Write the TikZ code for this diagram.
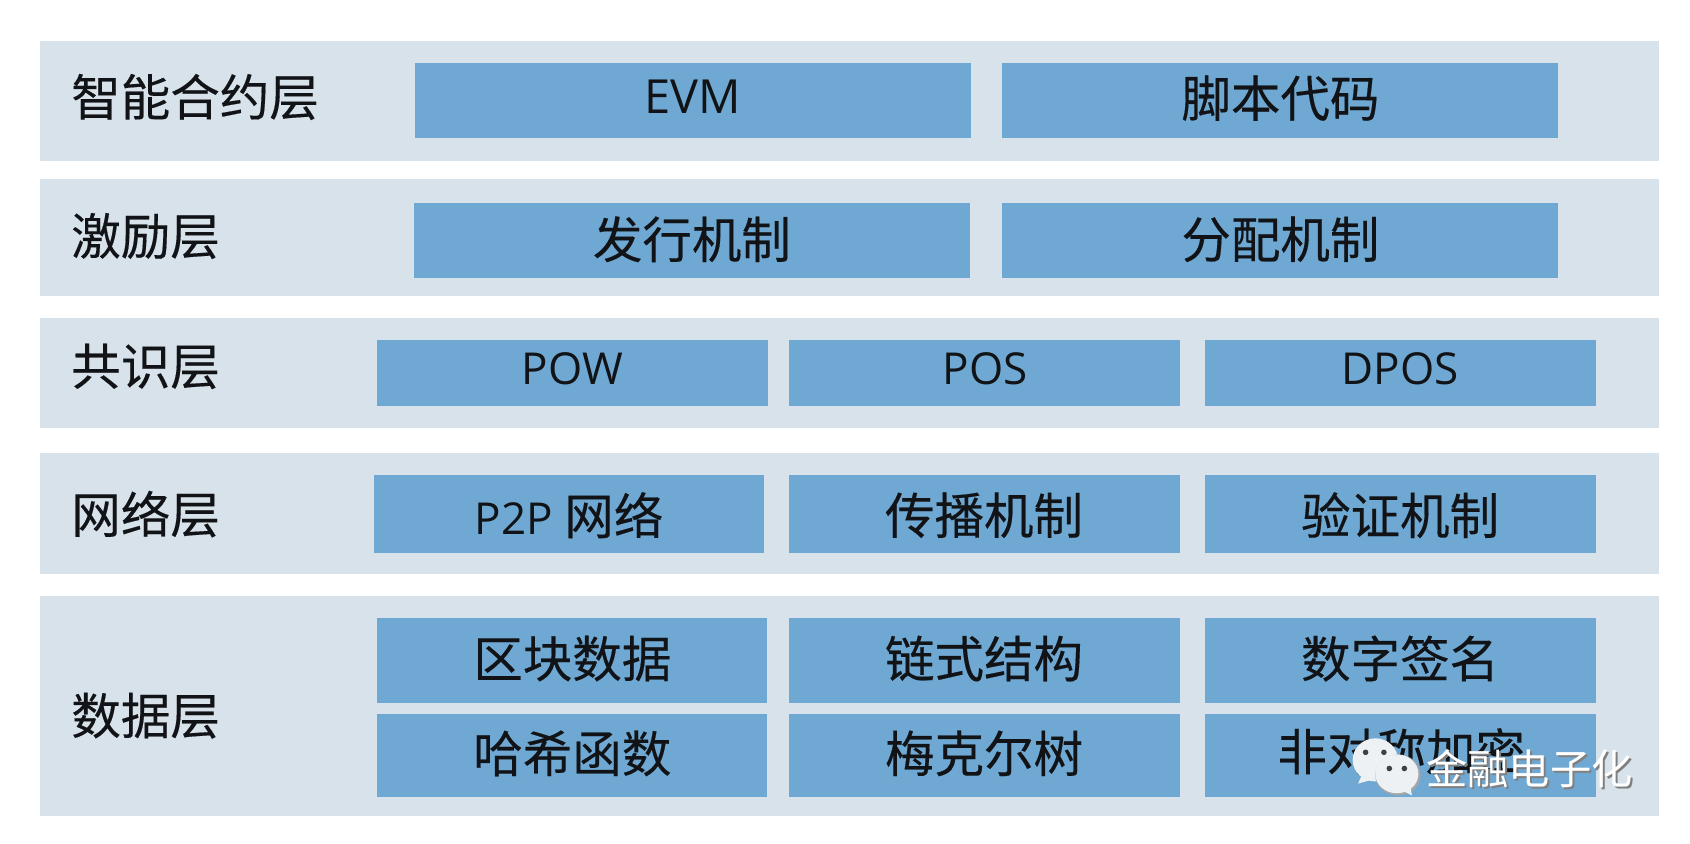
\documentclass[tikz,border=0pt]{standalone}
\usepackage{fontspec}
\setmainfont{Open Sans}
\newfontfamily\cjk[FakeBold=0.3]{Noto Sans CJK SC}
\newfontfamily\cjkw{Noto Sans CJK SC}
\definecolor{bandc}{HTML}{D7E2EB}
\definecolor{boxc}{HTML}{6FA9D3}
\definecolor{inkc}{HTML}{111316}
\definecolor{bubblec}{HTML}{EDF1F4}
\newcommand{\rr}[6]{%
  \pgfmathsetmacro{\rrw}{(#4-#2)*1.0778}%
  \pgfmathsetmacro{\rrh}{(#5-#3)*1.0778}%
  \node[#1,minimum width=\rrw pt,minimum height=\rrh pt] (#6) at ({(#2+#4)/2},{(#3+#5)/2}) {};}
\tikzset{
  x=1.0778pt,y=-1.0778pt,
  band/.style={fill=bandc,draw=none,inner sep=0pt,outer sep=0pt},
  bluebox/.style={fill=boxc,draw=none,inner sep=0pt,outer sep=0pt},
  zh/.style={inkc,font=\cjk\fontsize{49.5}{50}\selectfont,inner sep=0pt},
  lat/.style={inkc,font=\fontsize{44}{44}\selectfont,inner sep=0pt},
  lay/.style={zh,anchor=west},
  wm/.style={font=\cjkw\fontsize{41.3}{42}\selectfont,inner sep=0pt,anchor=west},
}
\begin{document}
\begin{tikzpicture}
\useasboundingbox (0,0) rectangle (1568,783);
\rr{band}{37}{38}{1539}{149}{b1}
\rr{band}{37}{166}{1539}{275}{b2}
\rr{band}{37}{295}{1539}{397}{b3}
\rr{band}{37}{420}{1539}{533}{b4}
\rr{band}{37}{553}{1539}{757}{b5}
\rr{bluebox}{385}{58}{901}{128}{a1}
\rr{bluebox}{929.5}{58}{1445.5}{128}{a2}
\rr{bluebox}{384}{188}{900}{257.5}{c1}
\rr{bluebox}{929.5}{188}{1445.5}{257.5}{c2}
\rr{bluebox}{350}{315}{713}{376.5}{d1}
\rr{bluebox}{732}{315}{1095}{376.5}{d2}
\rr{bluebox}{1118}{315}{1481}{376.5}{d3}
\rr{bluebox}{347}{441}{709}{513}{e1}
\rr{bluebox}{732}{441}{1095}{513}{e2}
\rr{bluebox}{1118}{441}{1481}{513}{e3}
\rr{bluebox}{350}{573}{712}{652}{f1}
\rr{bluebox}{732}{573}{1095}{652}{f2}
\rr{bluebox}{1118}{573}{1481}{652}{f3}
\rr{bluebox}{350}{662}{712}{739}{g1}
\rr{bluebox}{732}{662}{1095}{739}{g2}
\rr{bluebox}{1118}{662}{1481}{739}{g3}
\node[lay] (l1) at (66,90) {智能合约层};
\node[lay] (l2) at (66,219) {激励层};
\node[lay] (l3) at (66,340) {共识层};
\node[lay] (l4) at (66,477) {网络层};
\node[lay] (l5) at (66,664) {数据层};
\node[lat,font=\fontsize{47}{47}\selectfont] (ta1) at (643,90) {EVM};
\node[zh] (ta2) at (1188,91) {脚本代码};
\node[zh] (tc1) at (642,222) {发行机制};
\node[zh] (tc2) at (1188,222) {分配机制};
\node[lat] (td1) at (531,342) {POW};
\node[lat] (td2) at (914,342) {POS};
\node[lat] (td3) at (1299,342) {DPOS};
\node[lat] (te1) at (528,478) {P2P {\cjk\fontsize{49.5}{50}\selectfont 网络}};
\node[zh] (te2) at (913,478) {传播机制};
\node[zh] (te3) at (1299,478) {验证机制};
\node[zh] (tf1) at (531,611) {区块数据};
\node[zh] (tf2) at (913,611) {链式结构};
\node[zh] (tf3) at (1299,611) {数字签名};
\node[zh] (tg1) at (531,699) {哈希函数};
\node[zh] (tg2) at (913,699) {梅克尔树};
\node[zh] (tg3) at (1300,697) {非对称加密};
% watermark
\fill[bubblec] (1276,705) ellipse (21 and 20);
\fill[bubblec] (1265,716) -- (1260,727) -- (1278,722) -- cycle;
\fill[black!35] (1297,719) ellipse (21 and 19);
\fill[bubblec] (1296,718) ellipse (20 and 18);
\fill[bubblec] (1298,732) -- (1310,738) -- (1308,726) -- cycle;
\fill[black!75] (1267,698) circle (2.6) (1284,698) circle (2.6) (1289,713) circle (2.6) (1303,713) circle (2.6);
\node[wm,text=black!50] (ws) at (1325,715) {金融电子化};
\node[wm,text=white] (wt) at (1323,713) {金融电子化};
\end{tikzpicture}
\end{document}
